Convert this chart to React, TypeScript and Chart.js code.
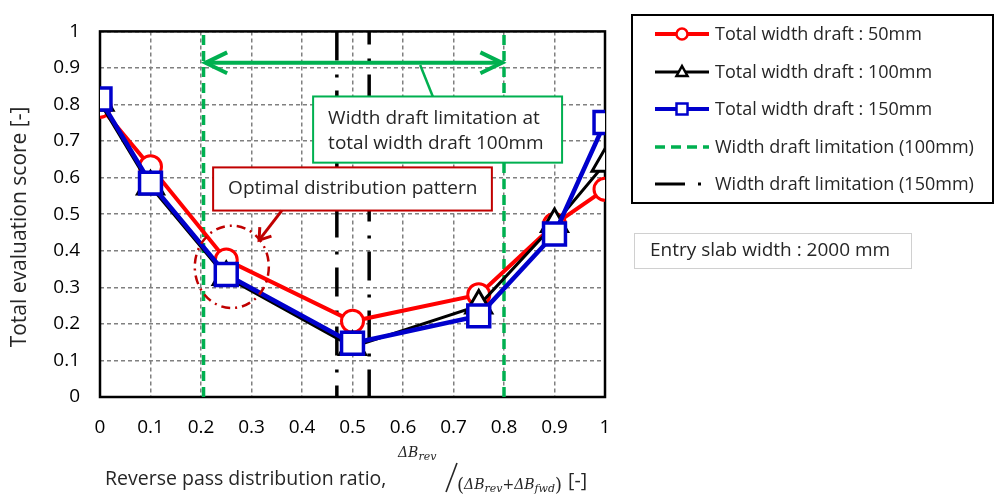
import React, { useEffect, useRef } from 'react';
import { Chart, registerables } from 'chart.js';

Chart.register(...registerables);

// ---- data ----
const ratios = [0, 0.1, 0.25, 0.5, 0.75, 0.9, 1];
const score50 = [0.795, 0.63, 0.375, 0.207, 0.28, 0.472, 0.568];
const score100 = [0.805, 0.576, 0.328, 0.137, 0.25, 0.473, 0.638];
const score150 = [0.815, 0.585, 0.335, 0.147, 0.222, 0.446, 0.751];
const limit100 = [0.205, 0.8];
const limit150 = [0.469, 0.533];
const xTickLabels = ['0', '0.1', '0.2', '0.3', '0.4', '0.5', '0.6', '0.7', '0.8', '0.9', '1'];
const yTickLabels = ['0', '0.1', '0.2', '0.3', '0.4', '0.5', '0.6', '0.7', '0.8', '0.9', '1'];
const seriesLabels = [
  'Total width draft : 50mm',
  'Total width draft : 100mm',
  'Total width draft : 150mm',
  'Width draft limitation (100mm)',
  'Width draft limitation (150mm)',
];

const FONT = '"Open Sans"';
const TEXT = '#262626';
const RED = '#ff0000';
const BLUE = '#0000cc';
const GREEN = '#00b050';
const DARKRED = '#c00000';
const DASHDOT = [29, 14, 3, 13];

function pts(xs: number[], ys: number[]) {
  return xs.map((x, i) => ({ x, y: ys[i] }));
}

function arrowHead(ctx: CanvasRenderingContext2D, tx: number, ty: number, ang: number, len: number, spread: number) {
  ctx.beginPath();
  ctx.moveTo(tx + len * Math.cos(ang + spread), ty + len * Math.sin(ang + spread));
  ctx.lineTo(tx, ty);
  ctx.lineTo(tx + len * Math.cos(ang - spread), ty + len * Math.sin(ang - spread));
  ctx.stroke();
}

const framePlugin = {
  id: 'frame',
  beforeDatasetsDraw(chart: any) {
    const { ctx, chartArea: a } = chart;
    ctx.save();
    ctx.strokeStyle = '#000';
    ctx.lineWidth = 2.5;
    ctx.strokeRect(a.left, a.top, a.right - a.left, a.bottom - a.top);
    ctx.restore();
  },
};

const decorPlugin = {
  id: 'decor',
  afterDatasetsDraw(chart: any) {
    const { ctx } = chart;
    const xs = chart.scales.x;
    const ys = chart.scales.y;
    const px = (v: number) => xs.getPixelForValue(v);
    const py = (v: number) => ys.getPixelForValue(v);
    ctx.save();
    ctx.lineCap = 'butt';

    // green double arrow between 100mm limits
    const ay = py(0.914);
    const ax1 = px(limit100[0]) + 2;
    const ax2 = px(limit100[1]) - 2;
    ctx.strokeStyle = GREEN;
    ctx.lineWidth = 4;
    ctx.beginPath();
    ctx.moveTo(ax1, ay);
    ctx.lineTo(ax2, ay);
    ctx.stroke();
    arrowHead(ctx, ax1, ay, 0, 24, 0.45);
    arrowHead(ctx, ax2, ay, Math.PI, 24, 0.45);
    // leader
    ctx.lineWidth = 2.5;
    ctx.beginPath();
    ctx.moveTo(px(0.634), py(0.908));
    ctx.lineTo(px(0.659), py(0.822));
    ctx.stroke();

    // green annotation box
    const gx1 = px(0.422), gx2 = px(0.915), gy1 = py(0.822), gy2 = py(0.641);
    ctx.fillStyle = '#fff';
    ctx.fillRect(gx1, gy1, gx2 - gx1, gy2 - gy1);
    ctx.strokeStyle = GREEN;
    ctx.lineWidth = 2;
    ctx.strokeRect(gx1, gy1, gx2 - gx1, gy2 - gy1);
    ctx.fillStyle = TEXT;
    ctx.font = `19px ${FONT}`;
    ctx.textAlign = 'left';
    ctx.textBaseline = 'middle';
    ctx.fillText('Width draft limitation at', gx1 + 15, gy1 + 22);
    ctx.fillText('total width draft 100mm', gx1 + 15, gy1 + 47);

    // red annotation box
    const rx1 = px(0.224), rx2 = px(0.776), ry1 = py(0.628), ry2 = py(0.51);
    ctx.fillStyle = '#fff';
    ctx.fillRect(rx1, ry1, rx2 - rx1, ry2 - ry1);
    ctx.strokeStyle = DARKRED;
    ctx.lineWidth = 2;
    ctx.strokeRect(rx1, ry1, rx2 - rx1, ry2 - ry1);
    ctx.fillStyle = TEXT;
    ctx.fillText('Optimal distribution pattern', rx1 + 15, (ry1 + ry2) / 2);

    // red arrow
    const s1x = px(0.36), s1y = py(0.51), tx = px(0.315), ty = py(0.429);
    ctx.strokeStyle = DARKRED;
    ctx.lineWidth = 3;
    ctx.beginPath();
    ctx.moveTo(s1x, s1y);
    ctx.lineTo(tx, ty);
    ctx.stroke();
    const ang = Math.atan2(s1y - ty, s1x - tx);
    arrowHead(ctx, tx, ty, ang, 13, 0.6);

    // dash-dot ellipse
    ctx.setLineDash([9, 5, 2, 5]);
    ctx.lineWidth = 2.5;
    ctx.beginPath();
    const ecx = px(0.261), ecy = py(0.356);
    const erx = px(0.261 + 0.0733) - ecx;
    const ery = ecy - py(0.356 + 0.1126);
    ctx.ellipse(ecx, ecy, erx, ery, 0, 0, Math.PI * 2);
    ctx.stroke();
    ctx.setLineDash([]);

    // ---- legend ----
    const lx = 632, ly = 15, lw = 361, lh = 188;
    ctx.strokeStyle = '#000';
    ctx.lineWidth = 2;
    ctx.strokeRect(lx, ly, lw, lh);
    const rows = [34, 72, 109, 147, 184];
    const sx1 = 655, sx2 = 709, mx = 682;
    ctx.font = `18px ${FONT}`;
    ctx.textBaseline = 'middle';
    rows.forEach((ry, i) => {
      ctx.save();
      if (i < 3) {
        const col = [RED, '#000', BLUE][i];
        ctx.strokeStyle = col;
        ctx.lineWidth = i === 1 ? 3 : 4;
        ctx.beginPath();
        ctx.moveTo(sx1, ry);
        ctx.lineTo(sx2, ry);
        ctx.stroke();
        ctx.fillStyle = '#fff';
        ctx.lineWidth = 2.5;
        ctx.beginPath();
        if (i === 0) {
          ctx.arc(mx, ry, 5.5, 0, Math.PI * 2);
        } else if (i === 1) {
          ctx.moveTo(mx, ry - 6);
          ctx.lineTo(mx + 5.5, ry + 4);
          ctx.lineTo(mx - 5.5, ry + 4);
          ctx.closePath();
        } else {
          ctx.rect(mx - 5.5, ry - 5.5, 11, 11);
        }
        ctx.fill();
        ctx.stroke();
      } else if (i === 3) {
        ctx.strokeStyle = GREEN;
        ctx.lineWidth = 3.5;
        ctx.setLineDash([10, 6]);
        ctx.beginPath();
        ctx.moveTo(sx1, ry);
        ctx.lineTo(sx2, ry);
        ctx.stroke();
      } else {
        ctx.strokeStyle = '#000';
        ctx.lineWidth = 3;
        ctx.beginPath();
        ctx.moveTo(sx1, ry);
        ctx.lineTo(685, ry);
        ctx.stroke();
        ctx.fillStyle = '#000';
        ctx.fillRect(698, ry - 1.5, 3, 3);
      }
      ctx.restore();
      ctx.fillStyle = TEXT;
      ctx.fillText(seriesLabels[i], 715, ry + 1);
    });

    // entry slab box
    ctx.strokeStyle = '#d0d0d0';
    ctx.lineWidth = 1;
    ctx.strokeRect(634.5, 233.5, 277, 35);
    ctx.fillStyle = TEXT;
    ctx.font = `19px ${FONT}`;
    ctx.fillText('Entry slab width : 2000 mm', 650, 251);

    // y-axis title
    ctx.save();
    ctx.font = `21px ${FONT}`;
    ctx.translate(20, 227);
    ctx.rotate(-Math.PI / 2);
    ctx.textAlign = 'center';
    ctx.fillText('Total evaluation score [-]', 0, 0);
    ctx.restore();

    // x-axis title with formula
    ctx.textAlign = 'left';
    ctx.textBaseline = 'alphabetic';
    let cx = 105;
    const put = (t: string, font: string, y: number) => {
      ctx.font = font;
      ctx.fillText(t, cx, y);
      cx += ctx.measureText(t).width;
    };
    put('Reverse pass distribution ratio,', `19.5px ${FONT}`, 485);
    const it = 'italic 14px "DejaVu Serif"';
    const itS = 'italic 11px "DejaVu Serif"';
    const up = `14px "DejaVu Serif"`;
    cx = 398;
    put('ΔB', it, 457);
    put('rev', itS, 460);
    // slash
    cx = 445;
    ctx.strokeStyle = TEXT;
    ctx.lineWidth = 1.6;
    ctx.beginPath();
    ctx.moveTo(cx + 1, 492);
    ctx.lineTo(cx + 12, 463);
    ctx.stroke();
    cx = 457;
    put('(', `18px "DejaVu Serif"`, 491);
    put('ΔB', it, 489);
    put('rev', itS, 492);
    put('+', up, 489);
    put('ΔB', it, 489);
    put('fwd', itS, 492);
    put(')', `18px "DejaVu Serif"`, 491);
    cx = Math.max(cx + 2, 568);
    put('[-]', `19.5px ${FONT}`, 487);

    ctx.restore();
  },
};

export default function App() {
  const ref = useRef<HTMLCanvasElement | null>(null);
  useEffect(() => {
    if (!ref.current) return;
    const chart = new Chart(ref.current, {
      type: 'scatter',
      data: {
        datasets: [
          {
            label: seriesLabels[2],
            data: pts(ratios, score150),
            showLine: true,
            borderColor: BLUE,
            borderWidth: 4.5,
            pointStyle: 'rect',
            pointRadius: 15.5,
            pointBorderWidth: 3.5,
            pointBackgroundColor: '#fff',
            pointBorderColor: BLUE,
            order: 0,
          },
          {
            label: seriesLabels[1],
            data: pts(ratios, score100),
            showLine: true,
            borderColor: '#000',
            borderWidth: 3,
            pointStyle: 'triangle',
            pointRadius: 15,
            pointBorderWidth: 3,
            pointBackgroundColor: '#fff',
            pointBorderColor: '#000',
            order: 1,
          },
          {
            label: seriesLabels[0],
            data: pts(ratios, score50),
            showLine: true,
            borderColor: RED,
            borderWidth: 4,
            pointStyle: 'circle',
            pointRadius: 11,
            pointBorderWidth: 3,
            pointBackgroundColor: '#fff',
            pointBorderColor: RED,
            order: 2,
          },
          ...limit100.map((v) => ({
            label: seriesLabels[3],
            data: [{ x: v, y: 0 }, { x: v, y: 1 }],
            showLine: true,
            borderColor: GREEN,
            borderWidth: 3.5,
            borderDash: [10, 6],
            pointRadius: 0,
            order: 3,
          })),
          ...limit150.map((v, i) => ({
            label: seriesLabels[4],
            data: [{ x: v, y: 1 }, { x: v, y: 0 }],
            showLine: true,
            borderColor: '#000',
            borderWidth: 3.5,
            borderDash: DASHDOT,
            borderDashOffset: i === 0 ? 0 : 16,
            pointRadius: 0,
            order: 4,
          })),
        ],
      },
      options: {
        animation: false,
        responsive: false,
        maintainAspectRatio: false,
        layout: { padding: { left: 0, top: 15, right: 390, bottom: 0 } },
        plugins: { legend: { display: false }, tooltip: { enabled: false } },
        scales: {
          x: {
            type: 'linear',
            min: 0,
            max: 1,
            afterFit: (s: any) => {
              s.height = 101;
            },
            ticks: {
              stepSize: 0.1,
              padding: 19,
              color: '#000',
              font: { family: 'Open Sans', size: 19 },
              maxRotation: 0,
              callback: (v: any) => xTickLabels[Math.round(Number(v) * 10)],
            },
            grid: { color: '#808080', lineWidth: 1.5, drawTicks: false },
            border: { display: false, dash: [4, 3] },
          },
          y: {
            type: 'linear',
            min: 0,
            max: 1,
            afterFit: (s: any) => {
              s.width = 100;
            },
            ticks: {
              stepSize: 0.1,
              padding: 20,
              color: '#000',
              font: { family: 'Open Sans', size: 19 },
              callback: (v: any) => yTickLabels[Math.round(Number(v) * 10)],
            },
            grid: { color: '#808080', lineWidth: 1.5, drawTicks: false },
            border: { display: false, dash: [4, 3] },
          },
        },
      },
      plugins: [framePlugin, decorPlugin],
    } as any);
    return () => chart.destroy();
  }, []);
  return (
    <div style={{ position: 'absolute', left: 0, top: 0, width: 995, height: 498, background: '#fff' }}>
      <canvas ref={ref} width={995} height={498} style={{ display: 'block' }} />
    </div>
  );
}
